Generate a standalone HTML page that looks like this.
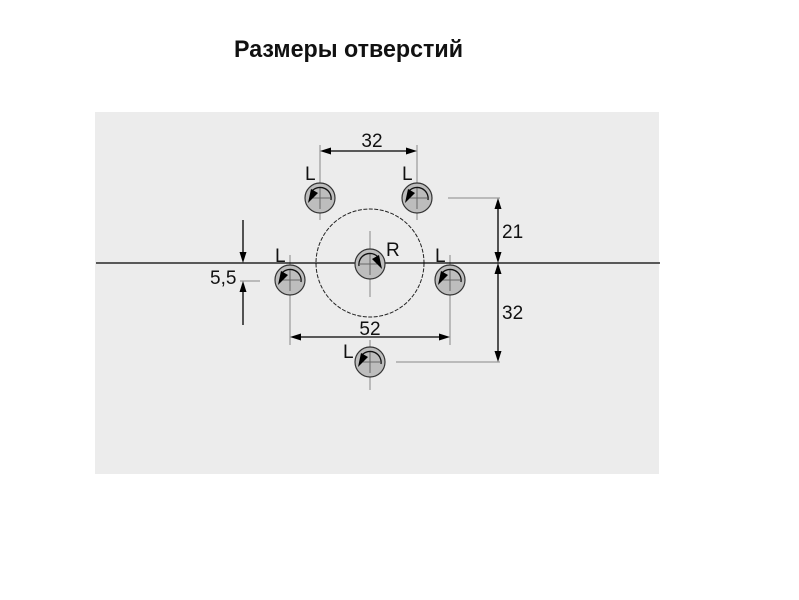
<!DOCTYPE html>
<html><head><meta charset="utf-8"><style>
html,body{margin:0;padding:0;background:#fff;}
svg{display:block;}
text{font-family:"Liberation Sans",sans-serif;fill:#111;}
</style></head><body>
<svg width="799" height="600" viewBox="0 0 799 600" xmlns="http://www.w3.org/2000/svg">
<defs>
<g id="holeL">
 <circle r="15" fill="#bdbdbd" stroke="#333" stroke-width="1.2"/>
 <line x1="-10" y1="0" x2="10" y2="0" stroke="#666" stroke-width="1"/>
 <line x1="0" y1="-11" x2="0" y2="11" stroke="#666" stroke-width="1"/>
 <path d="M11,2 A11,11 0 0 0 -8,-7" fill="none" stroke="#111" stroke-width="1.3"/>
 <polygon points="-12,5 -9,-9 -2,-5" fill="#000"/>
</g>
<g id="holeR">
 <circle r="15" fill="#bdbdbd" stroke="#333" stroke-width="1.2"/>
 <line x1="-10" y1="0" x2="10" y2="0" stroke="#666" stroke-width="1"/>
 <line x1="0" y1="-11" x2="0" y2="11" stroke="#666" stroke-width="1"/>
 <path d="M-11,2 A11,11 0 0 1 8,-7" fill="none" stroke="#111" stroke-width="1.3"/>
 <polygon points="12,5 9,-9 2,-5" fill="#000"/>
</g>
</defs>
<text x="234" y="57" font-size="24" font-weight="bold" textLength="229" lengthAdjust="spacingAndGlyphs">Размеры отверстий</text>
<rect x="95" y="112" width="564" height="362" fill="#ececec"/>
<g stroke="#888" stroke-width="1">
 <line x1="320" y1="145" x2="320" y2="220"/>
 <line x1="417" y1="145" x2="417" y2="220"/>
 <line x1="370" y1="231" x2="370" y2="297"/>
 <line x1="290" y1="255" x2="290" y2="345"/>
 <line x1="450" y1="255" x2="450" y2="345"/>
 <line x1="370" y1="340" x2="370" y2="390"/>
 <line x1="448" y1="198" x2="500" y2="198"/>
 <line x1="396" y1="362" x2="500" y2="362"/>
 <line x1="240" y1="281" x2="260" y2="281"/>
</g>
<circle cx="370" cy="263" r="54" fill="none" stroke="#222" stroke-width="1" stroke-dasharray="4,1.5"/>
<line x1="96" y1="263" x2="660" y2="263" stroke="#000" stroke-width="1.2"/>
<g stroke="#000" stroke-width="1.3">
 <line x1="326" y1="151" x2="411" y2="151"/>
 <line x1="498" y1="204" x2="498" y2="257"/>
 <line x1="498" y1="269" x2="498" y2="356"/>
 <line x1="296" y1="337" x2="444" y2="337"/>
 <line x1="243" y1="220" x2="243" y2="257"/>
 <line x1="243" y1="287" x2="243" y2="325"/>
</g>
<g fill="#000">
 <polygon points="320,151 331,147.5 331,154.5"/>
 <polygon points="417,151 406,147.5 406,154.5"/>
 <polygon points="498,198 494.5,209 501.5,209"/>
 <polygon points="498,263 494.5,252 501.5,252"/>
 <polygon points="498,263 494.5,274 501.5,274"/>
 <polygon points="498,362 494.5,351 501.5,351"/>
 <polygon points="290,337 301,333.5 301,340.5"/>
 <polygon points="450,337 439,333.5 439,340.5"/>
 <polygon points="243,263 239.5,252 246.5,252"/>
 <polygon points="243,281 239.5,292 246.5,292"/>
</g>
<use href="#holeL" x="320" y="198"/>
<use href="#holeL" x="417" y="198"/>
<use href="#holeR" x="370" y="264"/>
<use href="#holeL" x="290" y="280"/>
<use href="#holeL" x="450" y="280"/>
<use href="#holeL" x="370" y="362"/>
<g font-size="19">
 <text x="372" y="147" text-anchor="middle">32</text>
 <text x="502" y="238">21</text>
 <text x="502" y="319">32</text>
 <text x="370" y="335" text-anchor="middle">52</text>
 <text x="210" y="284">5,5</text>
 <text x="305" y="180">L</text>
 <text x="402" y="180">L</text>
 <text x="275" y="262">L</text>
 <text x="435" y="262">L</text>
 <text x="343" y="358">L</text>
 <text x="386" y="256">R</text>
</g>
</svg>
</body></html>
